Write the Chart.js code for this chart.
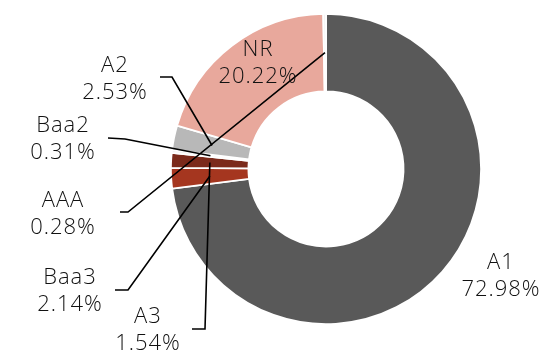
<!DOCTYPE html>
<html>
<head>
<meta charset="utf-8">
<script src="https://cdn.jsdelivr.net/npm/chart.js@4.4.1/dist/chart.umd.min.js"></script>
<style>
  html, body { margin: 0; padding: 0; background: #fff; }
  #wrap { width: 545px; height: 352px; }
</style>
</head>
<body>
<div id="wrap"><canvas id="chart" width="545" height="352"></canvas></div>
<script>
  // ratings and their shares (%)
  const ratings = ["A1", "Baa3", "A3", "Baa2", "A2", "NR", "AAA"];
  const shares = [72.98, 2.14, 1.54, 0.31, 2.53, 20.22, 0.28];
  const colors = ["#595959", "#a5361f", "#7b2a1b", "#f4f4f4", "#b8b8b8", "#e8a89c", "#f2f2f2"];

  // label placement, offsets from the doughnut centre
  // text: centre of first line; line: start of leader, elbow (leader then goes to slice)
  const labelLayout = {
    A1:   { text: [175, 94] },
    NR:   { text: [-68, -119] },
    A2:   { text: [-211, -103], line: [[-166, -92], [-154, -92]] },
    Baa2: { text: [-263, -43],  line: [[-218, -31], [-201, -30]] },
    AAA:  { text: [-263, 32],   line: [[-206, 43], [-198, 43]] },
    Baa3: { text: [-256, 109],  line: [[-211, 121], [-198, 121]] },
    A3:   { text: [-178, 148],  line: [[-134, 160], [-121, 160]] },
  };

  const labelsPlugin = {
    id: "ratingLabels",
    afterDatasetsDraw(chart) {
      const ctx = chart.ctx;
      const arcs = chart.getDatasetMeta(0).data;
      const cx = arcs[0].x, cy = arcs[0].y;
      ctx.save();
      ctx.strokeStyle = "#000";
      ctx.lineWidth = 1.6;
      arcs.forEach((arc, i) => {
        const lay = labelLayout[ratings[i]];
        if (!lay || !lay.line) return;
        const mid = (arc.startAngle + arc.endAngle) / 2;
        const r = (arc.innerRadius + arc.outerRadius) / 2;
        ctx.beginPath();
        ctx.moveTo(cx + lay.line[0][0], cy + lay.line[0][1]);
        ctx.lineTo(cx + lay.line[1][0], cy + lay.line[1][1]);
        ctx.lineTo(cx + Math.cos(mid) * r, cy + Math.sin(mid) * r);
        ctx.stroke();
      });
      ctx.fillStyle = "#111";
      ctx.font = "300 22px 'Open Sans'";
      ctx.letterSpacing = "1px";
      ctx.textAlign = "center";
      ctx.textBaseline = "middle";
      ratings.forEach((name, i) => {
        const lay = labelLayout[name];
        const x = cx + lay.text[0], y = cy + lay.text[1];
        ctx.fillText(name, x, y);
        ctx.fillText(shares[i].toFixed(2) + "%", x, y + 27);
      });
      ctx.restore();
    },
  };

  new Chart(document.getElementById("chart").getContext("2d"), {
    type: "doughnut",
    data: {
      labels: ratings,
      datasets: [
        {
          data: shares,
          backgroundColor: colors,
          borderColor: "#ffffff",
          borderWidth: 1.8,
        },
      ],
    },
    options: {
      responsive: false,
      animation: false,
      cutout: "50%",
      layout: { padding: { left: 170, right: 63, top: 12, bottom: 26 } },
      plugins: { legend: { display: false }, tooltip: { enabled: false } },
    },
    plugins: [labelsPlugin],
  });
</script>
</body>
</html>
